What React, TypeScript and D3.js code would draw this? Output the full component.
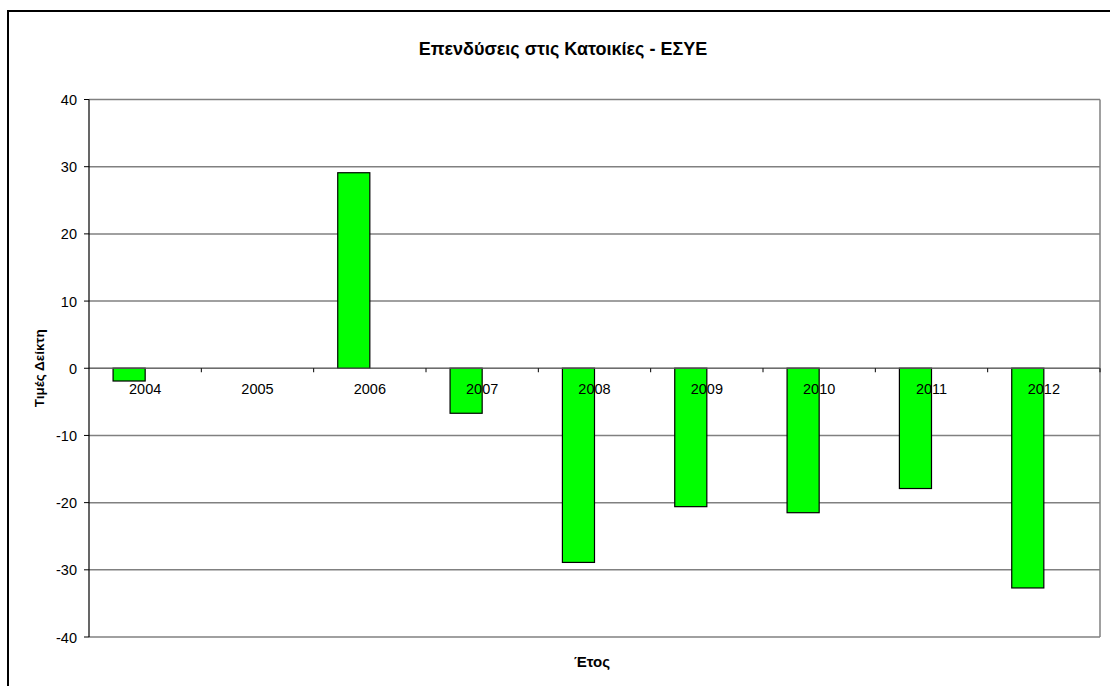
import React from "react";
import * as d3 from "d3";

const years = ["2004", "2005", "2006", "2007", "2008", "2009", "2010", "2011", "2012"];
const values = [-1.9, 0, 29.1, -6.7, -28.9, -20.6, -21.5, -17.9, -32.7];
const yTicks = [40, 30, 20, 10, 0, -10, -20, -30, -40];

const title = "Επενδύσεις στις Κατοικίες - ΕΣΥΕ";
const yTitle = "Τιμές Δείκτη";
const xTitle = "Έτος";

const W = 1110;
const H = 686;
const left = 89;
const right = 1100;
const top = 99.5;
const bottom = 637;
const font = "'Liberation Sans', Arial, sans-serif";

export default function App() {
  const x = d3.scaleBand<string>().domain(years).range([left, right]).padding(0);
  const y = d3.scaleLinear().domain([-40, 40]).range([bottom, top]);
  const bw = x.bandwidth();
  // two-slot cluster with 150% gap; only the first slot is filled
  const barW = bw / 3.5;
  const barOffset = bw * (0.75 / 3.5);
  const y0 = y(0);

  return (
    <svg
      width={W}
      height={H}
      style={{ position: "absolute", left: 0, top: 0, background: "#fff" }}
      fontFamily={font}
    >
      {/* chart frame */}
      <line x1={8} y1={10} x2={8} y2={H} stroke="#000" strokeWidth={2} />
      <line x1={7} y1={11} x2={W} y2={11} stroke="#000" strokeWidth={2} />

      <text x={563} y={55} textAnchor="middle" fontSize={18} fontWeight="bold" fill="#000">
        {title}
      </text>

      {/* gridlines */}
      {yTicks.map((t) => (
        <line key={"g" + t} x1={left} x2={right} y1={y(t)} y2={y(t)} stroke="#808080" strokeWidth={1.5} />
      ))}
      <line x1={right} x2={right} y1={top} y2={bottom} stroke="#808080" strokeWidth={1.5} />

      {/* bars */}
      {years.map((yr, i) => {
        const v = values[i];
        if (v === 0) return null;
        const yv = y(v);
        return (
          <rect
            key={yr}
            x={(x(yr) as number) + barOffset}
            y={Math.min(yv, y0)}
            width={barW}
            height={Math.abs(yv - y0)}
            fill="#00FF00"
            stroke="#000"
            strokeWidth={1.2}
          />
        );
      })}

      {/* category axis at zero */}
      <line x1={left} x2={right} y1={y0} y2={y0} stroke="#666" strokeWidth={1.2} />
      {years.map((yr) => (
        <line
          key={"ct" + yr}
          x1={(x(yr) as number) + bw}
          x2={(x(yr) as number) + bw}
          y1={y0}
          y2={y0 + 4}
          stroke="#000"
          strokeWidth={1}
        />
      ))}
      {years.map((yr) => (
        <text
          key={"cl" + yr}
          x={(x(yr) as number) + bw / 2}
          y={y0 + 26}
          textAnchor="middle"
          fontSize={14.5}
          fill="#000"
        >
          {yr}
        </text>
      ))}

      {/* value axis */}
      <line x1={left} x2={left} y1={top} y2={bottom} stroke="#000" strokeWidth={1.2} />
      {yTicks.map((t) => (
        <g key={"yt" + t}>
          <line x1={left - 5} x2={left} y1={y(t)} y2={y(t)} stroke="#000" strokeWidth={1} />
          <text x={77} y={y(t) + 5.5} textAnchor="end" fontSize={14.5} fill="#000">
            {t}
          </text>
        </g>
      ))}

      <text
        transform={`translate(44, ${y0}) rotate(-90)`}
        textAnchor="middle"
        fontSize={13.5}
        fontWeight="bold"
        fill="#000"
      >
        {yTitle}
      </text>
      <text x={592} y={667} textAnchor="middle" fontSize={15} fontWeight="bold" fill="#000">
        {xTitle}
      </text>
    </svg>
  );
}
